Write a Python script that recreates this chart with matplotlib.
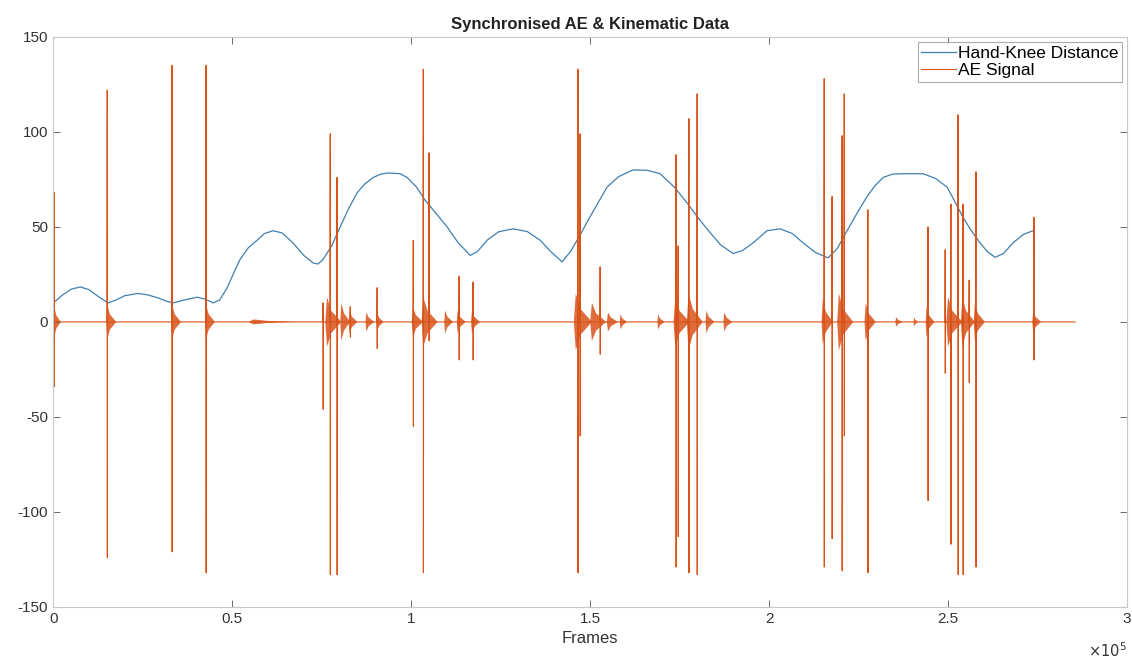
import numpy as np
import matplotlib
matplotlib.use("Agg")
import matplotlib.pyplot as plt
from matplotlib.ticker import FixedLocator, FixedFormatter

plt.rcParams['font.family'] = ['Liberation Sans', 'DejaVu Sans']
plt.rcParams['axes.unicode_minus'] = False

# hand-knee distance (frames, distance)
knee_frames = [0, 2500, 5000, 7540, 10000, 12500, 15360, 17500, 20000, 23740,
               26500, 29500, 31500, 33520, 36500, 40220, 42500, 44690, 46500, 48600,
               50500, 52230, 54500, 56980, 59000, 61450, 64000, 67040, 70000, 72630,
               74000, 75420, 77800, 80170, 82500, 84920, 87000, 89380, 91500, 93580,
               96930, 98880, 101500, 103910, 107000, 110060, 113000, 116480, 118500, 121230,
               124500, 128490, 132500, 136030, 139000, 142180, 144500, 147000, 149160, 152000,
               154750, 158000, 162010, 166000, 169550, 173500, 177100, 180500, 183520, 186500,
               189940, 192500, 195530, 199440, 203070, 206500, 209500, 213000, 216480, 219000,
               221790, 224500, 227370, 229500, 231840, 234500, 237430, 243020, 246500, 249720,
               252000, 254190, 256500, 258940, 261000, 263130, 265500, 268160, 271000, 273740]
knee_dist = [10, 14, 17.2, 18.4, 17, 13.5, 10, 11.5, 13.8, 15,
             14.2, 12.5, 11, 10, 11.5, 13, 12, 10, 11.5, 18,
             26, 33, 39, 43, 46.5, 48, 46.8, 41.5, 35, 31,
             30.5, 33, 40, 50, 59.5, 68, 72.5, 76, 77.8, 78.4,
             78, 76, 71, 64, 57, 50, 42, 35, 37, 43,
             47.5, 49, 47.5, 43, 37, 31.6, 37, 45, 52.6, 62,
             71, 76.5, 80, 79.8, 78, 71, 62.6, 54, 47, 40.5,
             36, 37.5, 41.6, 48, 49, 46.5, 41.6, 36.5, 33.7, 38.5,
             48, 57, 66, 71.5, 76, 77.8, 78, 78, 75.5, 71,
             63, 55, 48, 41.6, 37, 34, 36, 41.6, 46, 48]

# AE spikes: position, positive peak, negative peak
spike_frames = [300, 15100, 33200, 42700, 75400, 77400, 79300, 83000, 90500, 100600,
                103400, 105000, 113400, 117300, 146600, 147200, 152800, 174000, 174600, 177600,
                179900, 215400, 217600, 220400, 221000, 227600, 244400, 249200, 250800, 252800,
                254200, 255900, 257800, 274000]
spike_up = [68, 122, 135, 135, 10, 99, 76, 8, 18, 43,
            133, 89, 24, 21, 133, 99, 29, 88, 40, 107,
            120, 128, 66, 98, 120, 59, 50, 38, 62, 109,
            62, 22, 79, 55]
spike_down = [-34, -124, -121, -132, -46, -133, -133, -8, -14, -55,
              -132, -10, -20, -20, -132, -60, -17, -129, -113, -132,
              -133, -129, -114, -131, -60, -132, -94, -27, -117, -133,
              -133, -32, -129, -20]

# ring-down bursts around the baseline: onset, tail length, amplitude
burst_frames = [300, 15100, 33200, 42700, 56000, 76500, 80500, 82800, 87500, 90500,
                100500, 103400, 109500, 113000, 117000, 146000, 150500, 155000, 158500, 169000,
                173800, 177500, 182500, 187500, 215000, 219500, 227000, 235500, 240500, 244000,
                250000, 254000, 257500, 273800]
burst_width = [1800, 2500, 2500, 2500, 12000, 4000, 2500, 2200, 2200, 1800,
               2800, 4000, 2200, 2200, 2200, 4500, 4000, 2800, 1800, 1800,
               4000, 4000, 2200, 2200, 2800, 4000, 2800, 1800, 1200, 2200,
               4000, 3500, 2800, 2200]
burst_amp = [8, 9, 9, 9, 1.3, 13, 10, 6, 5, 5,
             8, 13, 6, 6, 6, 15, 10, 5, 4, 4,
             13, 15, 6, 5, 12, 15, 10, 2.5, 2.5, 8,
             13, 13, 10, 6]
ae_end = 285500

x_ticks = [0, 50000, 100000, 150000, 200000, 250000, 300000]
x_tick_labels = ["0", "0.5", "1", "1.5", "2", "2.5", "3"]
y_ticks = [-150, -100, -50, 0, 50, 100, 150]

blue = "#3f7fb0"
orange = "#D95319"

fig = plt.figure(figsize=(11.32, 6.59), dpi=100)
ax = fig.add_axes([0.047, 0.079, 0.9486, 0.865])

ax.plot(knee_frames, knee_dist, color=blue, lw=0.9, solid_joinstyle="round",
        label="Hand-Knee Distance")

# AE trace built from the spike table
ae_x = [0]
ae_y = [0]
for f, u, d in sorted(zip(spike_frames, spike_up, spike_down)):
    ae_x += [f - 60, f, f + 30, f + 60]
    ae_y += [0, u, d, 0]
ae_x.append(ae_end)
ae_y.append(0)
ax.plot(ae_x, ae_y, color=orange, lw=0.8, label="AE Signal")

for c, w, a in zip(burst_frames, burst_width, burst_amp):
    ax.fill([c - w * 0.12, c, c + w * 0.3, c + w, c + w * 0.3, c],
            [0, a, a * 0.45, 0, -a * 0.45, -a],
            color=orange, lw=0, alpha=0.85)

ax.set_xlim(0, 300000)
ax.set_ylim(-150, 150)
ax.xaxis.set_major_locator(FixedLocator(x_ticks))
ax.xaxis.set_major_formatter(FixedFormatter(x_tick_labels))
ax.set_yticks(y_ticks)
ax.tick_params(direction="in", top=True, right=True, length=5, width=0.6,
               colors="#555555", labelsize=11, labelcolor="#333333")
for s in ax.spines.values():
    s.set_color("#c8c8c8")
    s.set_linewidth(0.8)

ax.set_title("Synchronised AE & Kinematic Data", fontsize=12, fontweight="bold",
             color="#222222", pad=6)
ax.set_xlabel("Frames", fontsize=12, color="#333333", labelpad=4)
ax.text(1.0, -0.06, r"$\times10^5$", transform=ax.transAxes, ha="right", va="top",
        fontsize=10.5, color="#333333")

leg = ax.legend(loc="upper right", fontsize=12.5, frameon=True, fancybox=False,
                handlelength=2.0, handletextpad=0.1, borderpad=0.2, labelspacing=0.15,
                borderaxespad=0.3)
leg.get_frame().set_edgecolor("#999999")
leg.get_frame().set_linewidth(0.8)

fig.savefig("out.png", dpi=100)
